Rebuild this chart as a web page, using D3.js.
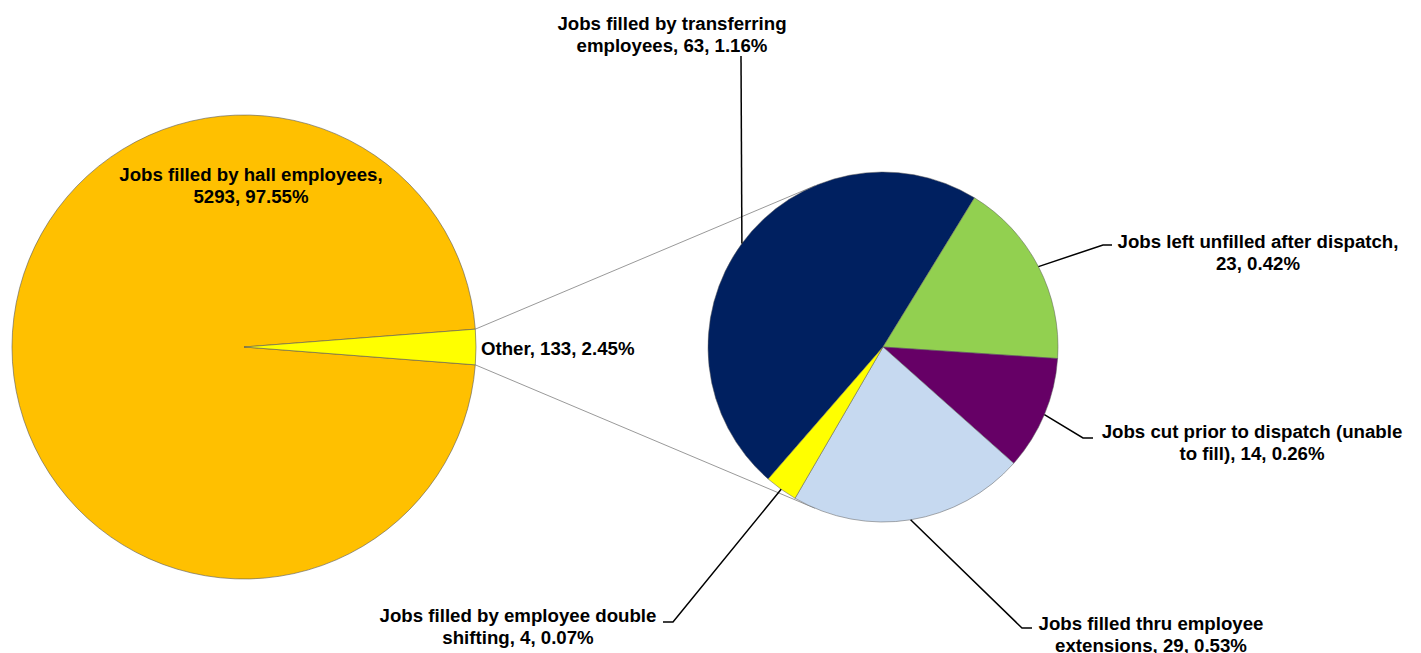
<!DOCTYPE html>
<html>
<head>
	<title>Jobs filled - pie of pie</title>
	<style>
		html, body { margin: 0; background: white; }
		svg { display: block; }
		text { font-family: "Liberation Sans", Arial, sans-serif; font-weight: bold; font-size: 18.67px; fill: #000; }
	</style>
	<script src="https://cdn.jsdelivr.net/npm/d3@7/dist/d3.min.js"></script>
</head>
<body>
	<svg id="svg" width="1421" height="653"></svg>
	<script>
		// main pie
		const mainNames = ['Jobs filled by hall employees', 'Other'];
		const mainValues = [5293, 133];
		const mainColors = ['#FFC000', '#FFFF00'];

		// second pie (breakdown of "Other")
		const subNames = [
			'Jobs filled by transferring employees',
			'Jobs left unfilled after dispatch',
			'Jobs cut prior to dispatch (unable to fill)',
			'Jobs filled thru employee extensions',
			'Jobs filled by employee double shifting'
		];
		const subValues = [63, 23, 14, 29, 4];
		const subColors = ['#002060', '#92D050', '#660066', '#C6D9F0', '#FFFF00'];

		const total = d3.sum(mainValues);
		const pct = v => (v / total * 100).toFixed(2) + '%';

		const svg = d3.select('#svg');
		const LH = 21.5; // line height of labels

		// geometry
		const c1 = [244, 347], r1 = 232;
		const c2 = [883, 347], r2 = 175;
		const deg = Math.PI / 180;

		// "Other" slice centred on 3 o'clock
		const otherAngle = mainValues[1] / total * 2 * Math.PI;
		const mainPie = d3.pie().sort(null).value(d => d)
			.startAngle(Math.PI / 2 + otherAngle / 2)
			.endAngle(Math.PI / 2 + otherAngle / 2 + 2 * Math.PI);
		const mainArcs = mainPie(mainValues);
		const arc1 = d3.arc().innerRadius(0).outerRadius(r1);

		const g1 = svg.append('g').attr('transform', `translate(${c1})`);
		g1.selectAll('path').data(mainArcs).join('path')
			.attr('d', arc1)
			.attr('fill', (d, i) => mainColors[i])
			.attr('stroke', '#5a5a5a')
			.attr('stroke-width', 0.6);

		const subPie = d3.pie().sort(null).value(d => d)
			.startAngle(-139 * deg)
			.endAngle(-139 * deg + 2 * Math.PI);
		const subArcs = subPie(subValues);
		const arc2 = d3.arc().innerRadius(0).outerRadius(r2);
		const edge2 = d3.arc().innerRadius(r2).outerRadius(r2);

		// connector lines: from edges of "Other" slice, tangent to second pie
		const oArc = mainArcs[1];
		function polar(c, r, a) { return [c[0] + r * Math.sin(a), c[1] - r * Math.cos(a)]; }
		function tangent(p, upper) {
			const dx = p[0] - c2[0], dy = p[1] - c2[1];
			const d = Math.hypot(dx, dy);
			const base = Math.atan2(dx, -dy);
			const off = Math.acos(r2 / d);
			return polar(c2, r2, upper ? base + off : base - off);
		}
		const pTop = polar(c1, r1, oArc.startAngle);
		const pBot = polar(c1, r1, oArc.endAngle);
		svg.append('line')
			.attr('x1', pTop[0]).attr('y1', pTop[1])
			.attr('x2', tangent(pTop, true)[0]).attr('y2', tangent(pTop, true)[1])
			.attr('stroke', '#7f7f7f').attr('stroke-width', 0.8);
		svg.append('line')
			.attr('x1', pBot[0]).attr('y1', pBot[1])
			.attr('x2', tangent(pBot, false)[0]).attr('y2', tangent(pBot, false)[1])
			.attr('stroke', '#7f7f7f').attr('stroke-width', 0.8);

		const g2 = svg.append('g').attr('transform', `translate(${c2})`);
		g2.selectAll('path').data(subArcs).join('path')
			.attr('d', arc2)
			.attr('fill', (d, i) => subColors[i])
			.attr('stroke', '#5a5a5a')
			.attr('stroke-width', 0.5);

		// main labels
		const mainLbl = [
			{ lines: ['Jobs filled by hall employees,', `${mainValues[0]}, ${pct(mainValues[0])}`], x: 251, y: 181, anchor: 'middle' },
			{ lines: [`${mainNames[1]}, ${mainValues[1]}, ${pct(mainValues[1])}`], x: 481, y: 355, anchor: 'start' }
		];
		mainLbl.forEach(l => {
			const t = svg.append('text').attr('text-anchor', l.anchor);
			l.lines.forEach((s, j) => t.append('tspan').attr('x', l.x).attr('y', l.y + j * LH).text(s));
		});

		// sub labels with leader lines (elbow points & text position)
		const subLayout = [
			{ split: 'Jobs filled by transferring|employees', elbow: [[741, 56]], tx: 672, ty: 30 },
			{ split: 'Jobs left unfilled after dispatch,|', elbow: [[1103, 245], [1112, 245]], tx: 1258, ty: 248 },
			{ split: 'Jobs cut prior to dispatch (unable|to fill)', elbow: [[1083, 438], [1093, 438]], tx: 1252, ty: 438 },
			{ split: 'Jobs filled thru employee|extensions', elbow: [[1022, 628], [1032, 628]], tx: 1151, ty: 630 },
			{ split: 'Jobs filled by employee double|shifting', elbow: [[673, 622], [663, 622]], tx: 518, ty: 622 }
		];

		subArcs.forEach((a, i) => {
			const L = subLayout[i];
			const e = edge2.centroid(a);
			const pts = [[c2[0] + e[0], c2[1] + e[1]]].concat(L.elbow);
			svg.append('path')
				.attr('d', d3.line()(pts))
				.attr('fill', 'none')
				.attr('stroke', '#000')
				.attr('stroke-width', 1.5);
			const parts = L.split.split('|');
			const tail = `${subValues[i]}, ${pct(subValues[i])}`;
			const line2 = parts[1] ? `${parts[1]}, ${tail}` : tail;
			const t = svg.append('text').attr('text-anchor', 'middle');
			t.append('tspan').attr('x', L.tx).attr('y', L.ty).text(parts[0]);
			t.append('tspan').attr('x', L.tx).attr('y', L.ty + LH).text(line2);
		});
	</script>
</body>
</html>
